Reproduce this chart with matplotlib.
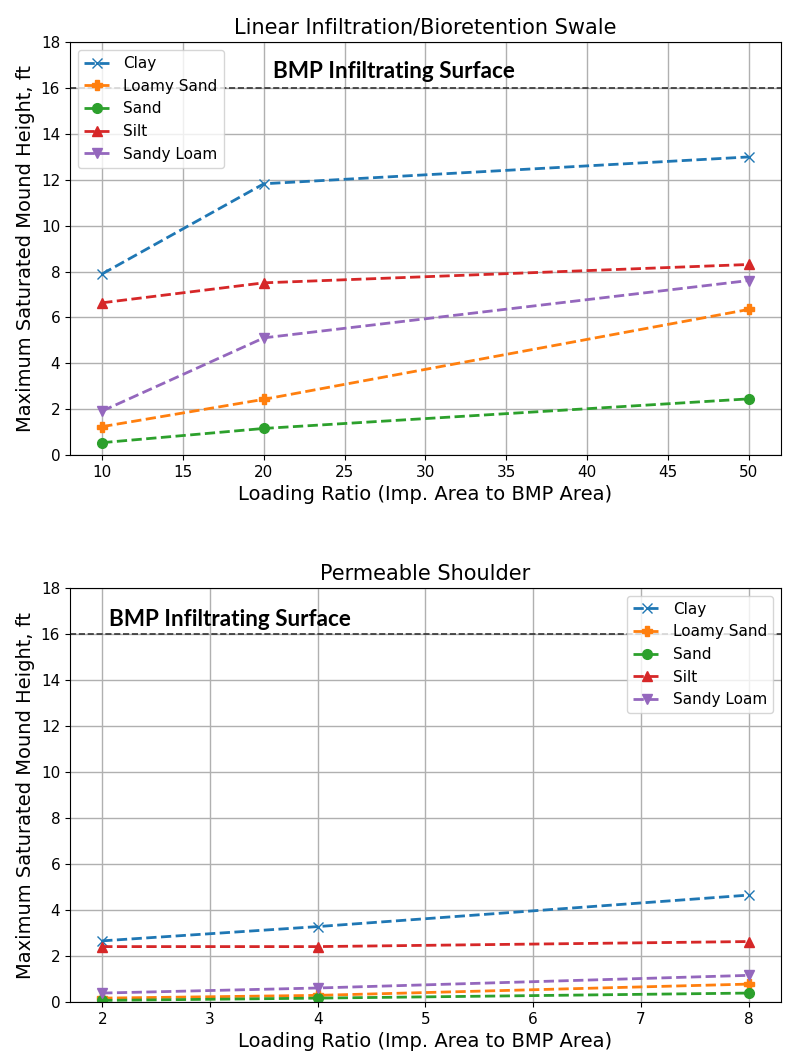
import matplotlib
matplotlib.use("Agg")
import matplotlib.pyplot as plt
from matplotlib import font_manager

soils = ["Clay", "Loamy Sand", "Sand", "Silt", "Sandy Loam"]
markers = ["x", "P", "o", "^", "v"]
colors = ["#1f77b4", "#ff7f0e", "#2ca02c", "#d62728", "#9467bd"]

# Linear Infiltration/Bioretention Swale
swale_x = [10, 20, 50]
swale_clay = [7.9, 11.83, 13.0]
swale_loamy_sand = [1.24, 2.43, 6.35]
swale_sand = [0.54, 1.16, 2.45]
swale_silt = [6.64, 7.51, 8.31]
swale_sandy_loam = [1.92, 5.11, 7.61]

# Permeable Shoulder
shoulder_x = [2, 4, 8]
shoulder_clay = [2.66, 3.28, 4.65]
shoulder_loamy_sand = [0.17, 0.29, 0.78]
shoulder_sand = [0.07, 0.17, 0.39]
shoulder_silt = [2.41, 2.41, 2.63]
shoulder_sandy_loam = [0.39, 0.61, 1.16]

surface_level = 16
surface_label = "BMP Infiltrating Surface"
titles = ["Linear Infiltration/Bioretention Swale", "Permeable Shoulder"]
xlabel = "Loading Ratio (Imp. Area to BMP Area)"
ylabel = "Maximum Saturated Mound Height, ft"

available = {f.name for f in font_manager.fontManager.ttflist}
label_font = "DejaVu Sans"
for cand in ["Liberation Sans Narrow", "Lato", "DejaVu Sans Condensed"]:
    if cand in available:
        label_font = cand
        break

fig = plt.figure(figsize=(7.85, 10.57), dpi=100)
ax1 = fig.add_axes([0.089, 0.5695, 0.906, 0.3905])
ax2 = fig.add_axes([0.089, 0.052, 0.906, 0.3917])


def draw(ax, x, series, title, legend_loc, xticks, text_x, text_y):
    for name, ys, m, c in zip(soils, series, markers, colors):
        ax.plot(x, ys, linestyle="--", marker=m, color=c, label=name,
                linewidth=2, markersize=7)
    ax.axhline(surface_level, color="#333333", linestyle="--", linewidth=1.2, zorder=1)
    ax.text(text_x, text_y, surface_label, fontsize=16.2, fontweight="bold",
            family=[label_font, "DejaVu Sans"], ha="left", va="baseline")
    ax.set_ylim(0, 18)
    ax.set_yticks(range(0, 19, 2))
    ax.set_xticks(xticks)
    ax.grid(True, color="#b0b0b0", linewidth=1)
    ax.set_axisbelow(True)
    ax.set_title(title, fontsize=15)
    ax.set_xlabel(xlabel, fontsize=14)
    ax.set_ylabel(ylabel, fontsize=14)
    ax.tick_params(labelsize=11)
    ax.legend(loc=legend_loc, fontsize=11, handlelength=1.8)


draw(ax1, swale_x, [swale_clay, swale_loamy_sand, swale_sand, swale_silt, swale_sandy_loam],
     titles[0], "upper left", range(10, 51, 5), 20.56, 16.45)
draw(ax2, shoulder_x, [shoulder_clay, shoulder_loamy_sand, shoulder_sand, shoulder_silt, shoulder_sandy_loam],
     titles[1], "upper right", range(2, 9), 2.06, 16.35)

fig.savefig("out.png", dpi=100)
